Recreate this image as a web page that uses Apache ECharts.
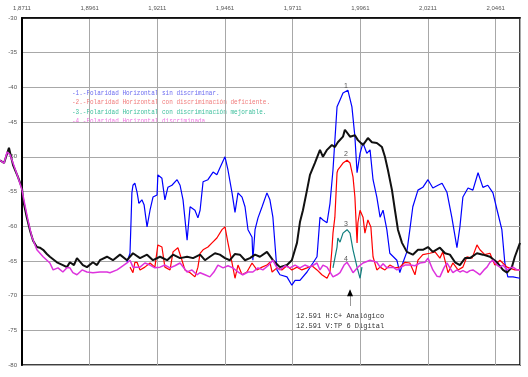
<!DOCTYPE html>
<html>
<head>
<meta charset="utf-8">
<script src="https://cdn.jsdelivr.net/npm/echarts@6/dist/echarts.min.js"></script>
<style>
  html, body { margin: 0; padding: 0; background: #fff; }
  #chart { width: 528px; height: 377px; }
</style>
</head>
<body>
<div id="chart"></div>
<script>
// x = offset in MHz from 1,8711 GHz ; y = level in dB
var freqStart = 1.8711
var xMax = 184
var xStep = 25
var xLeftEdge = -8.1   // traces start a bit before the axis

var black = [[-8.1,-50.5],[-6.6,-50.9],[-4.8,-48.7],[-3.3,-51.2],[-1.5,-52.9],[0,-54.5],[0.4,-56.2],[1.8,-58.8],[3.0,-60.7],[4.1,-62.1],[5.5,-63.0],[6.6,-63.1],[7.8,-63.4],[9.2,-64.0],[10.3,-64.4],[12.9,-65.2],[15.1,-65.6],[16.6,-65.9],[17.7,-65.2],[19.2,-65.6],[20.3,-64.6],[22.5,-65.6],[24.0,-65.9],[26.2,-65.2],[27.7,-65.6],[28.8,-64.9],[31.4,-64.4],[33.6,-64.9],[36.2,-64.1],[38.8,-64.9],[41.0,-63.9],[43.6,-64.6],[46.2,-64.1],[48.4,-64.9],[51.0,-64.4],[53.6,-64.9],[55.8,-64.1],[58.4,-64.6],[61.0,-64.4],[63.2,-64.6],[65.8,-64.1],[67.6,-64.9],[69.4,-64.4],[71.3,-63.9],[73.1,-64.1],[75.0,-64.6],[76.8,-64.9],[78.7,-64.0],[80.5,-64.1],[82.4,-64.9],[84.2,-64.6],[86.1,-64.1],[87.9,-64.4],[90.5,-63.7],[92.7,-64.9],[95.3,-65.9],[97.9,-65.6],[99.7,-64.9],[101.6,-62.4],[102.7,-59.4],[103.8,-57.7],[105.3,-54.8],[106.4,-52.6],[108.2,-50.9],[110.1,-49.0],[111.2,-50.0],[112.7,-49.0],[114.5,-48.3],[115.6,-48.6],[116.7,-47.9],[118.6,-47.1],[119.3,-46.1],[121.2,-47.1],[123.0,-46.9],[124.1,-47.6],[126.0,-48.3],[127.8,-47.3],[129.3,-47.9],[131.1,-48.0],[133.0,-48.6],[134.1,-50.0],[135.2,-51.9],[136.7,-54.8],[137.8,-57.7],[138.9,-60.5],[140.4,-62.4],[142.2,-63.7],[144.4,-64.1],[146.3,-63.4],[148.1,-63.4],[150.0,-63.0],[151.8,-63.7],[154.4,-63.1],[156.3,-63.9],[158.1,-64.1],[160.0,-65.2],[161.8,-65.6],[163.7,-64.6],[165.5,-64.6],[168.1,-63.9],[170.3,-64.1],[172.9,-64.4],[175.5,-65.2],[177.7,-66.3],[179.2,-66.7],[181.0,-65.9],[182.1,-64.4],[184.0,-62.4]]

var magenta = [[-8.1,-50.5],[-6.6,-50.9],[-5.5,-49.3],[-4.4,-49.7],[-3.3,-50.9],[-1.5,-52.9],[0,-54.8],[1.1,-57.0],[2.2,-59.1],[3.7,-61.6],[5.5,-63.4],[7.8,-64.4],[10.3,-65.3],[11.5,-66.3],[13.3,-66.0],[15.1,-66.6],[16.6,-66.0],[17.7,-66.0],[18.8,-66.7],[20.3,-67.0],[22.2,-66.3],[24.0,-66.6],[26.2,-66.7],[28.8,-66.6],[31.4,-66.6],[32.5,-66.7],[35.1,-66.3],[36.2,-66.0],[38.8,-65.3],[39.9,-64.9],[41.0,-65.9],[43.6,-65.9],[45.4,-65.3],[47.3,-65.6],[49.1,-66.0],[51.0,-65.9],[52.8,-65.6],[54.7,-66.0],[56.5,-65.7],[58.4,-65.3],[61.0,-66.6],[62.8,-66.3],[64.6,-67.0],[65.8,-66.7],[67.6,-67.0],[69.4,-67.3],[70.9,-66.6],[72.4,-65.6],[74.3,-66.0],[76.1,-65.7],[77.9,-66.0],[79.8,-66.6],[81.6,-67.0],[83.5,-66.6],[85.3,-66.6],[87.2,-66.0],[89.0,-66.3],[90.9,-65.7],[92.7,-64.9],[94.2,-66.0],[95.3,-66.3],[97.2,-65.7],[99.0,-66.0],[100.9,-65.6],[102.7,-66.0],[104.5,-65.6],[106.4,-65.9],[109.0,-65.3],[110.1,-66.3],[111.2,-65.6],[112.7,-65.9],[114.9,-67.3],[116.4,-67.0],[117.5,-66.7],[119.0,-65.6],[120.1,-65.2],[121.2,-65.9],[122.3,-66.7],[124.1,-65.9],[126.0,-65.3],[128.6,-64.9],[131.1,-65.2],[132.3,-65.9],[133.4,-65.4],[134.8,-66.0],[137.1,-65.9],[138.5,-66.3],[139.6,-66.0],[141.5,-65.6],[143.3,-65.6],[145.2,-65.7],[147.0,-65.3],[148.9,-65.2],[150.0,-64.6],[151.8,-66.3],[153.3,-67.2],[154.4,-67.3],[155.9,-66.0],[157.0,-65.3],[158.1,-66.0],[159.2,-66.7],[160.7,-66.3],[161.8,-66.6],[162.9,-66.4],[164.4,-66.7],[165.5,-66.4],[166.6,-66.3],[168.1,-66.7],[169.2,-67.0],[170.7,-66.3],[171.8,-65.9],[172.9,-65.2],[174.0,-64.9],[175.5,-65.6],[176.6,-65.9],[177.7,-65.6],[179.2,-66.3],[180.3,-66.0],[181.4,-65.9],[182.9,-66.3],[184.0,-66.3]]

var blue = [[38.8,-65.2],[39.9,-63.9],[40.3,-59.1],[40.6,-55.2],[41.0,-54.1],[41.7,-53.8],[42.5,-55.1],[43.2,-56.7],[44.3,-56.2],[45.1,-56.9],[46.2,-60.1],[47.3,-57.7],[48.4,-55.8],[49.9,-55.5],[50.2,-52.6],[51.7,-53.1],[52.8,-56.2],[53.9,-54.4],[55.4,-54.1],[57.3,-53.3],[58.4,-54.1],[59.5,-56.2],[61.0,-62.0],[62.1,-57.2],[63.9,-57.7],[65.0,-58.8],[65.8,-57.7],[66.9,-53.6],[68.7,-53.3],[70.6,-52.2],[72.0,-52.6],[73.1,-51.6],[75.0,-50.0],[76.1,-51.9],[77.6,-55.2],[78.7,-58.0],[79.8,-55.2],[81.3,-55.8],[82.4,-57.2],[83.5,-60.5],[85.0,-61.6],[85.3,-64.9],[86.1,-60.5],[87.2,-58.8],[88.7,-57.2],[90.5,-55.2],[91.6,-56.2],[92.7,-58.7],[94.2,-66.3],[95.3,-67.0],[97.9,-67.3],[99.7,-68.5],[100.9,-67.8],[102.7,-67.8],[105.3,-66.6],[107.5,-65.3],[109.0,-64.4],[110.1,-58.7],[111.2,-59.1],[112.7,-59.5],[113.8,-56.7],[114.9,-51.9],[116.4,-42.8],[117.5,-41.8],[118.6,-40.8],[120.4,-40.4],[121.9,-42.8],[123.0,-47.1],[123.8,-52.3],[124.9,-49.5],[126.0,-48.0],[127.4,-49.5],[128.6,-49.0],[129.7,-53.3],[131.1,-55.8],[132.3,-58.7],[133.4,-57.7],[134.8,-60.5],[135.9,-63.9],[138.5,-64.9],[139.6,-66.7],[140.7,-65.3],[142.2,-63.7],[143.3,-60.5],[144.4,-57.2],[146.3,-54.8],[148.1,-54.4],[150.0,-53.3],[151.8,-54.5],[153.7,-54.1],[155.2,-53.8],[157.0,-55.1],[158.8,-58.7],[160.7,-63.1],[161.8,-60.1],[162.9,-55.8],[164.8,-54.5],[166.6,-54.8],[168.5,-52.3],[170.3,-54.4],[172.1,-54.1],[174.0,-55.2],[175.8,-58.1],[177.3,-60.5],[178.4,-65.3],[179.5,-67.3],[181.4,-67.3],[184.0,-67.5]]

var red = [[39.9,-65.9],[41.0,-66.7],[41.7,-65.2],[42.5,-65.2],[43.6,-66.3],[45.4,-65.9],[47.3,-65.3],[49.1,-65.9],[50.2,-62.7],[51.7,-63.0],[52.8,-65.9],[54.7,-66.3],[55.8,-63.7],[57.6,-63.1],[59.1,-64.9],[60.2,-66.3],[62.1,-66.7],[63.9,-67.3],[65.0,-65.9],[65.8,-63.9],[66.9,-63.4],[68.7,-63.0],[70.2,-62.4],[72.0,-61.7],[73.9,-60.5],[75.0,-60.1],[76.1,-62.4],[77.6,-65.3],[78.7,-67.5],[79.8,-65.6],[81.3,-67.0],[83.1,-66.6],[85.0,-65.3],[86.8,-66.3],[88.7,-65.9],[90.5,-65.6],[91.6,-65.2],[92.4,-66.6],[94.2,-66.0],[96.0,-66.3],[97.9,-65.7],[99.7,-66.3],[101.6,-65.9],[103.4,-66.3],[105.3,-66.0],[107.1,-65.7],[109.0,-66.3],[110.8,-67.0],[112.7,-67.5],[113.8,-66.6],[114.5,-63.4],[114.9,-61.0],[115.6,-58.7],[116.4,-52.3],[116.7,-51.9],[117.5,-51.5],[118.6,-50.9],[120.1,-50.5],[121.2,-50.9],[122.3,-52.9],[123.0,-55.8],[123.8,-62.4],[124.1,-59.5],[124.9,-57.7],[126.0,-58.7],[126.7,-61.0],[127.8,-59.1],[128.9,-60.1],[129.7,-64.4],[131.1,-66.3],[132.3,-65.9],[134.1,-66.3],[135.9,-65.6],[137.8,-66.0],[139.6,-65.9],[141.5,-65.2],[143.3,-65.3],[145.2,-67.0],[146.3,-64.9],[148.1,-64.1],[150.7,-63.9],[152.6,-63.7],[154.4,-64.6],[155.5,-63.7],[157.4,-66.7],[159.2,-65.3],[161.1,-66.3],[162.9,-65.9],[164.4,-64.4],[166.3,-64.6],[168.1,-62.7],[169.2,-63.4],[171.0,-64.1],[172.9,-63.9],[174.7,-65.6],[176.6,-64.9],[179.2,-65.9],[182.1,-66.3],[184.0,-66.3]]

var teal = [[114.9,-66.0],[115.6,-65.9],[116.4,-63.0],[116.7,-61.7],[117.5,-62.3],[118.6,-61.0],[120.1,-60.5],[121.2,-61.0],[122.3,-63.4],[123.8,-65.9],[124.9,-67.5],[125.6,-65.9]]

// numbered markers above the peaks and the carrier arrow
var peakLabels = [['1', 119.7, -39.8], ['2', 119.7, -49.6], ['3', 119.7, -59.7], ['4', 119.7, -64.7]]
var arrowX = 121.2
var arrowFrom = -71.5
var arrowTo = -69.3

var legendLines = [
  ['-1.-Polaridad Horizontal sin discriminar.', '#6b6bf0'],
  ['-2.-Polaridad Horizontal con discriminación deficiente.', '#f07a7a'],
  ['-3.-Polaridad Horizontal con discriminación mejorable.', '#3cbf9c'],
  ['-4.-Polaridad Horizontal discriminada.', '#f070e0']
]
var noteLines = ['12.591 H:C+ Analógico', '12.591 V:TP 6 Digital']

var chart = echarts.init(document.getElementById('chart'))

function lineSeries(name, data, color, width, gridIdx) {
  return {
    name: name,
    type: 'line',
    data: data,
    xAxisIndex: gridIdx || 0,
    yAxisIndex: gridIdx || 0,
    showSymbol: false,
    silent: true,
    animation: false,
    lineStyle: { color: color, width: width },
    itemStyle: { color: color }
  }
}
function inside(d) { return d.filter(function (p) { return p[0] >= 0 }) }
function outside(d) { return d.filter(function (p) { return p[0] <= 0 }) }

var blueSeries = lineSeries('1', blue, '#0000ff', 1.2)
blueSeries.markPoint = {
  symbol: 'circle',
  symbolSize: 0,
  silent: true,
  label: {
    show: true,
    position: 'inside',
    formatter: function (p) { return p.name },
    color: '#555',
    fontSize: 7,
    fontFamily: 'Liberation Sans'
  },
  data: peakLabels.map(function (d) { return { name: d[0], coord: [d[1], d[2]] } })
}
blueSeries.markLine = {
  silent: true,
  symbol: ['none', 'none'],
  label: { show: false },
  lineStyle: { color: '#999', width: 1, type: 'solid' },
  data: [[{ coord: [arrowX, arrowFrom] }, { coord: [arrowX, arrowTo] }]]
}

var magentaSeries = lineSeries('4', inside(magenta), '#dd33dd', 1.5)
magentaSeries.markPoint = {
  symbol: 'triangle',
  symbolSize: [6, 7],
  silent: true,
  itemStyle: { color: '#000' },
  label: { show: false },
  data: [{ coord: [arrowX, arrowTo - 0.3] }]
}

var graphics = []
legendLines.forEach(function (l, i) {
  graphics.push({
    type: 'text',
    x: 72,
    y: 93 + i * 9.5,
    scaleX: 0.8,
    silent: true,
    style: { text: l[0], fill: l[1], font: '7.5px "Liberation Mono"', verticalAlign: 'middle' }
  })
})
noteLines.forEach(function (t, i) {
  graphics.push({
    type: 'text',
    x: 296,
    y: 316 + i * 10,
    silent: true,
    style: { text: t, fill: '#333', font: '7px "Liberation Mono"', verticalAlign: 'middle' }
  })
})

chart.setOption({
  animation: false,
  backgroundColor: '#fff',
  grid: [
    { left: 22, right: 8, top: 18, bottom: 12, show: true, borderColor: '#000', borderWidth: 1.5 },
    // strip left of the y axis where the traces begin
    { left: 0, width: 22, top: 18, bottom: 12, show: false }
  ],
  xAxis: [{
    type: 'value',
    gridIndex: 0,
    position: 'top',
    min: 0,
    max: xMax,
    interval: xStep,
    axisLine: { show: true, lineStyle: { color: '#000', width: 1.5 } },
    axisTick: { show: false },
    splitLine: { show: true, lineStyle: { color: '#a8a8a8', width: 1 } },
    axisLabel: {
      color: '#555',
      fontSize: 6,
      fontFamily: 'Liberation Sans',
      margin: 7,
      showMaxLabel: false,
      formatter: function (v) { return (freqStart + v / 1000).toFixed(4).replace('.', ',') }
    }
  }, {
    type: 'value',
    gridIndex: 1,
    min: xLeftEdge,
    max: 0,
    show: false
  }],
  yAxis: [{
    type: 'value',
    gridIndex: 0,
    min: -80,
    max: -30,
    interval: 5,
    axisLine: { show: true, lineStyle: { color: '#000', width: 2 } },
    axisTick: { show: false },
    splitLine: { show: true, lineStyle: { color: '#a8a8a8', width: 1 } },
    axisLabel: { color: '#555', fontSize: 6, fontFamily: 'Liberation Sans', margin: 5 }
  }, {
    type: 'value',
    gridIndex: 1,
    min: -80,
    max: -30,
    show: false
  }],
  graphic: graphics,
  series: [
    blueSeries,
    lineSeries('2', red, '#ff0000', 1.2),
    lineSeries('3', teal, '#117f7f', 1.2),
    lineSeries('0', inside(black), '#111111', 2),
    magentaSeries,
    lineSeries('0b', outside(black), '#111111', 2, 1),
    lineSeries('4b', outside(magenta), '#dd33dd', 1.5, 1)
  ]
})
</script>
</body>
</html>
